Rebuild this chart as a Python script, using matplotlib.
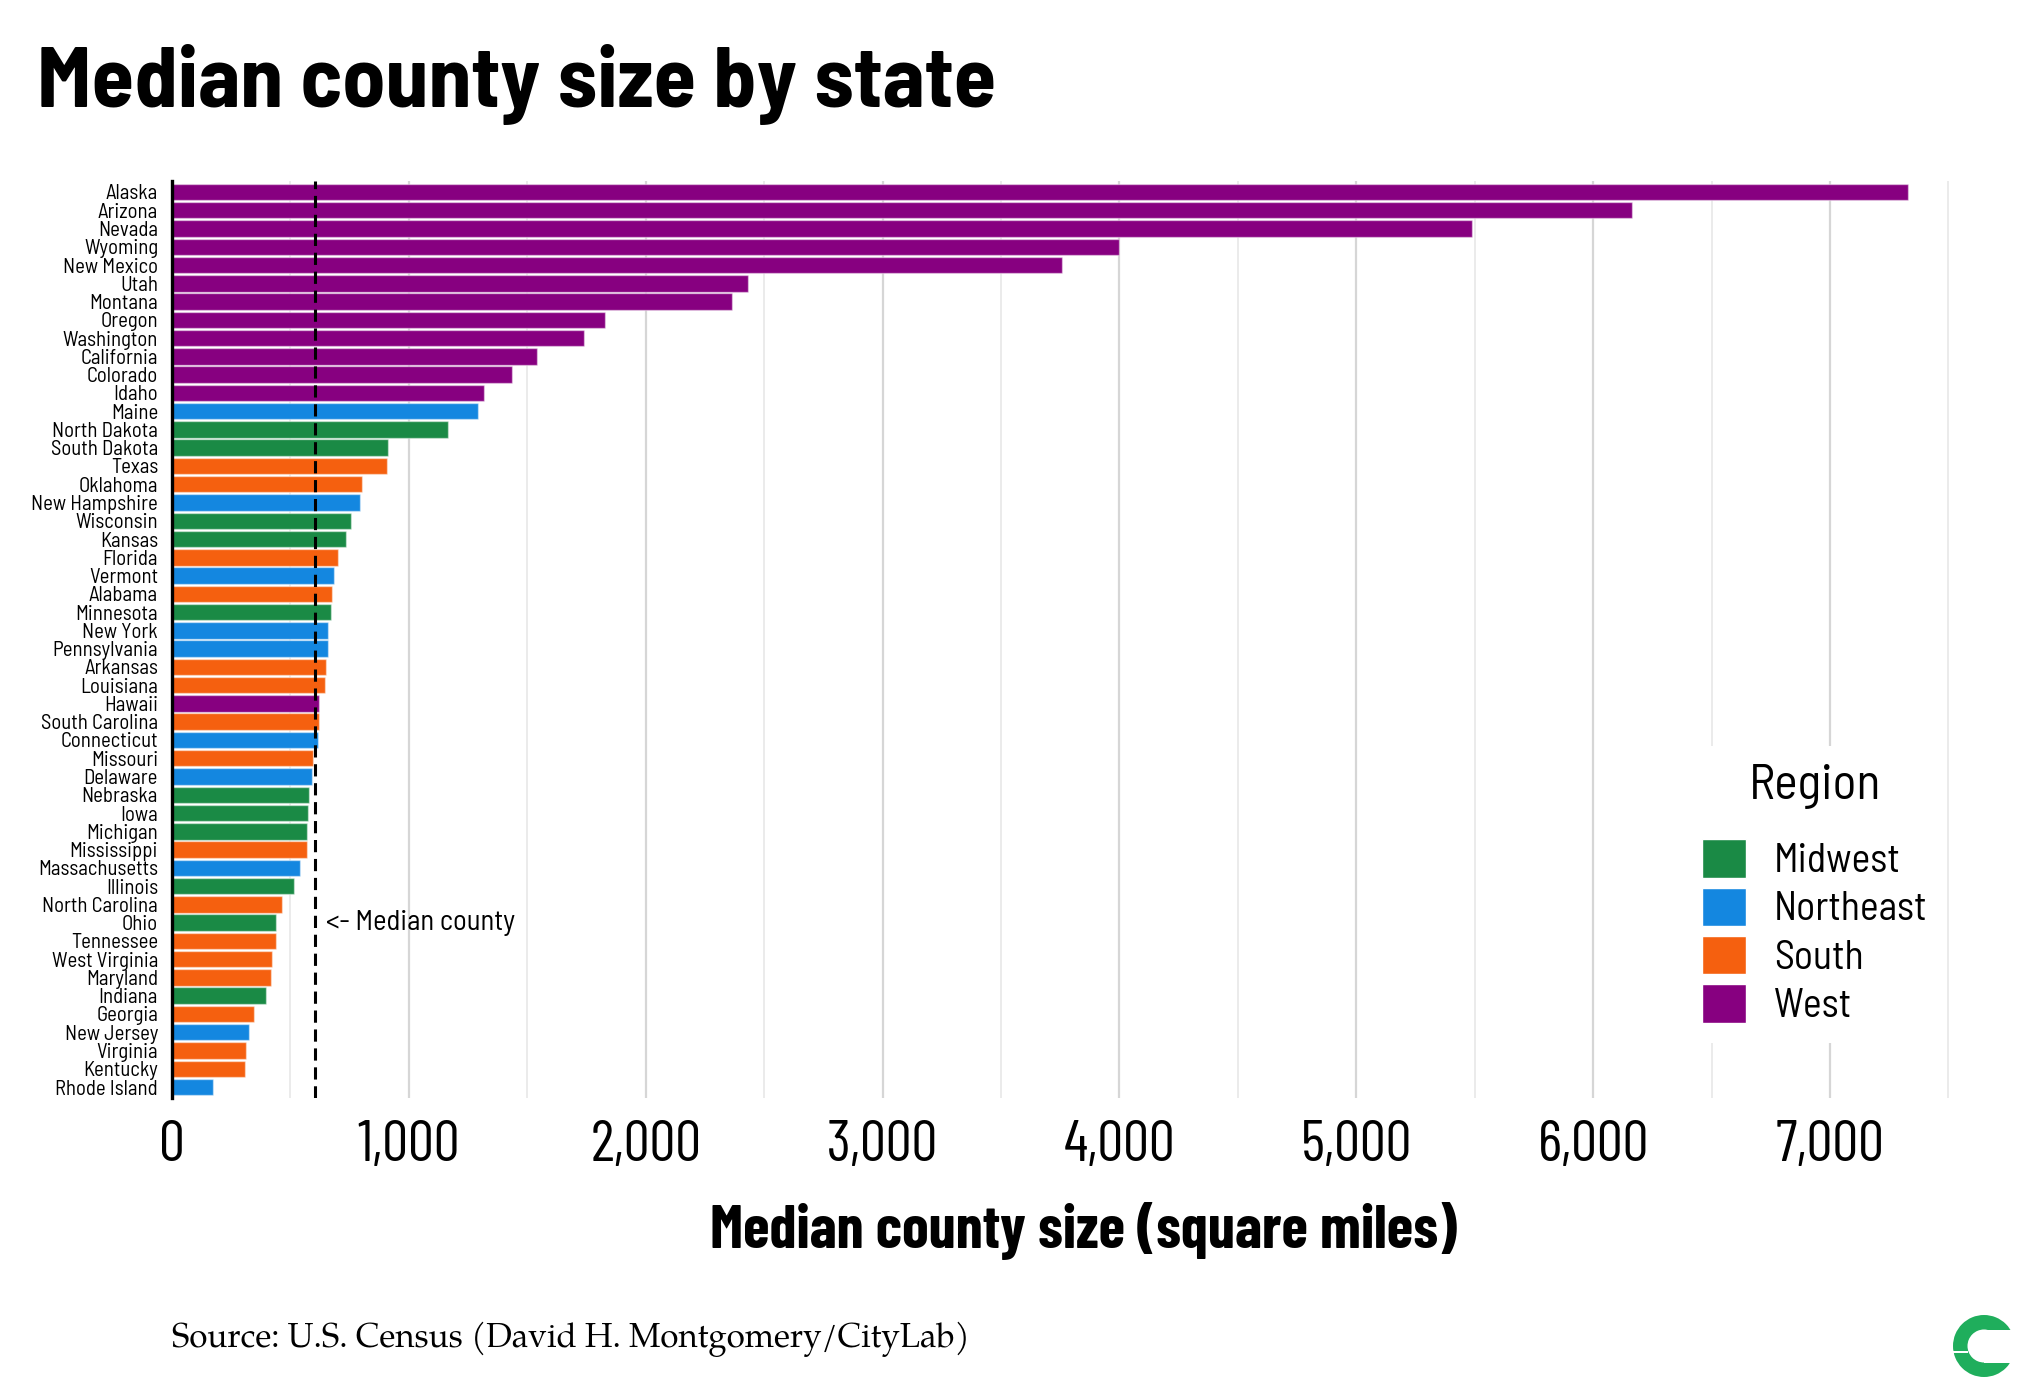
import matplotlib
matplotlib.use("Agg")
import matplotlib.pyplot as plt
from matplotlib import font_manager
from matplotlib.patches import Patch, Wedge, Rectangle
from matplotlib.ticker import MultipleLocator, FuncFormatter

states = [
    "Alaska", "Arizona", "Nevada", "Wyoming", "New Mexico", "Utah", "Montana",
    "Oregon", "Washington", "California", "Colorado", "Idaho", "Maine",
    "North Dakota", "South Dakota", "Texas", "Oklahoma", "New Hampshire",
    "Wisconsin", "Kansas", "Florida", "Vermont", "Alabama", "Minnesota",
    "New York", "Pennsylvania", "Arkansas", "Louisiana", "Hawaii",
    "South Carolina", "Connecticut", "Missouri", "Delaware", "Nebraska",
    "Iowa", "Michigan", "Mississippi", "Massachusetts", "Illinois",
    "North Carolina", "Ohio", "Tennessee", "West Virginia", "Maryland",
    "Indiana", "Georgia", "New Jersey", "Virginia", "Kentucky", "Rhode Island",
]
median_sq_mi = [
    7330, 6164, 5489, 4000, 3759, 2432, 2366,
    1830, 1741, 1540, 1434, 1316, 1291,
    1165, 912, 908, 804, 795,
    755, 733, 699, 684, 675, 673,
    658, 657, 650, 648, 622,
    620, 618, 597, 590, 579,
    573, 571, 570, 541, 515,
    464, 438, 437, 421, 420,
    398, 345, 325, 314, 310, 171,
]
regions = [
    "West", "West", "West", "West", "West", "West", "West",
    "West", "West", "West", "West", "West", "Northeast",
    "Midwest", "Midwest", "South", "South", "Northeast",
    "Midwest", "Midwest", "South", "Northeast", "South", "Midwest",
    "Northeast", "Northeast", "South", "South", "West",
    "South", "Northeast", "South", "Northeast", "Midwest",
    "Midwest", "Midwest", "South", "Northeast", "Midwest",
    "South", "Midwest", "South", "South", "South",
    "Midwest", "South", "Northeast", "South", "South", "Northeast",
]
region_names = ["Midwest", "Northeast", "South", "West"]
region_colors = {"Midwest": "#1a8a45", "Northeast": "#1487e0",
                 "South": "#f5600f", "West": "#870080"}
median_county = 605

installed = {f.name for f in font_manager.fontManager.ttflist}


def pick(*names):
    for n in names:
        if n in installed:
            return n
    return "DejaVu Sans"


narrow = pick("Barlow Condensed", "Asap Condensed")
semi = pick("Barlow Semi Condensed", "Barlow Condensed")
serif = pick("TeX Gyre Pagella", "P052", "Palatino Linotype", "URW Palladio L",
             "Crimson Text", "Liberation Serif")

W, H = 2030, 1400
fig = plt.figure(figsize=(W / 100, H / 100), dpi=100)
renderer = fig.canvas.get_renderer()


def size_for(s, target_px, **kw):
    # font size that gives the text the width it has in the reference
    t = fig.text(0, 0, s, fontsize=20, **kw)
    w = t.get_window_extent(renderer).width
    t.remove()
    return 20 * target_px / w


fs_title = size_for("Median county size by state", 958, family=semi, weight="bold")
fs_xlab = size_for("Median county size (square miles)", 747, family=narrow, weight="bold")
fs_xtick = size_for("1,000", 103, family=narrow)
fs_ytick = size_for("New Hampshire", 126, family=semi)
fs_note = size_for("<- Median county", 189, family=semi)
fs_legt = size_for("Region", 132, family=semi)
fs_leg = size_for("Northeast", 154, family=semi)
fs_src = size_for("Source: U.S. Census (David H. Montgomery/CityLab)", 799, family=serif)

left, right, top, bottom = 172 / W, 1995 / W, 1 - 181 / H, 1 - 1098 / H
ax = fig.add_axes([left, bottom, right - left, top - bottom])

ypos = list(range(len(states)))
colors = [region_colors[r] for r in regions]
ax.barh(ypos, median_sq_mi, height=0.9, color=colors,
        edgecolor=(1, 1, 1, 0.45), linewidth=1, zorder=2)

ax.set_ylim(len(states) - 0.4, -0.6)
ax.set_xlim(0, max(median_sq_mi) * 1.05)
ax.set_yticks(ypos)
ax.set_yticklabels(states, fontsize=fs_ytick, family=semi)
ax.xaxis.set_major_locator(MultipleLocator(1000))
ax.xaxis.set_minor_locator(MultipleLocator(500))
ax.xaxis.set_major_formatter(FuncFormatter(lambda v, p: f"{int(v):,}"))
ax.tick_params(axis="x", which="both", length=0, labelsize=fs_xtick, pad=16)
for lab in ax.get_xticklabels():
    lab.set_family(narrow)
ax.tick_params(axis="y", length=0, pad=10)
ax.grid(axis="x", which="major", color="#d6d6d6", lw=1.6, zorder=0)
ax.grid(axis="x", which="minor", color="#ebebeb", lw=1.4, zorder=0)
ax.set_axisbelow(True)
for s in ("top", "right", "bottom"):
    ax.spines[s].set_visible(False)
ax.spines["left"].set_linewidth(2.4)
ax.spines["left"].set_zorder(3)

ax.axvline(median_county, color="black", lw=2.2, ls=(0, (4, 2.2)), zorder=3)
ax.text(650, states.index("Ohio"), "<- Median county", fontsize=fs_note,
        family=semi, ha="left", va="center")

fig.text((left + right) / 2, 1 - 1248 / H, "Median county size (square miles)",
         fontsize=fs_xlab, family=narrow, weight="bold", ha="center", va="baseline")

handles = [Patch(facecolor=region_colors[r], edgecolor="white", lw=1) for r in region_names]
fs_leg_px = fs_leg * 100 / 72
leg = fig.legend(handles, region_names, loc="upper left",
                 bbox_to_anchor=(1684 / W, 1 - 746 / H),
                 prop={"family": semi, "size": fs_leg},
                 title="Region", title_fontproperties={"family": semi, "size": fs_legt},
                 frameon=True, fancybox=False,
                 handlelength=44 / fs_leg_px, handleheight=44 / fs_leg_px,
                 labelspacing=0.19, handletextpad=0.7, borderpad=0.45,
                 borderaxespad=0)
leg.get_frame().set_facecolor("white")
leg.get_frame().set_edgecolor("none")
leg.get_frame().set_alpha(1)
leg._legend_box.sep = 22

fig.text(37 / W, 1 - 107 / H, "Median county size by state", fontsize=fs_title,
         family=semi, weight="bold", ha="left", va="baseline")
fig.text(left, 1 - 1347 / H, "Source: U.S. Census (David H. Montgomery/CityLab)",
         fontsize=fs_src, family=serif, ha="left", va="baseline")

# CityLab logo, drawn in pixel units
lax = fig.add_axes([1940 / W, 0, 90 / W, 100 / H])
lax.set_xlim(1940, 2030)
lax.set_ylim(1400, 1300)
lax.set_aspect("equal")
lax.axis("off")
cx, cy, r_out, r_in = 1984, 1346, 31, 16.5
lax.add_patch(Wedge((cx, cy), r_out, 0, 360, width=r_out - r_in, color="#1fae5c", lw=0))
lax.add_patch(Rectangle((cx, cy - r_in), r_out + 2, 2 * r_in, color="white", lw=0))
lax.add_patch(Rectangle((cx - r_out - 1, cy + 5), r_out - r_in + 2, 1.6, color="white", lw=0))

fig.savefig("out.png", dpi=100)
